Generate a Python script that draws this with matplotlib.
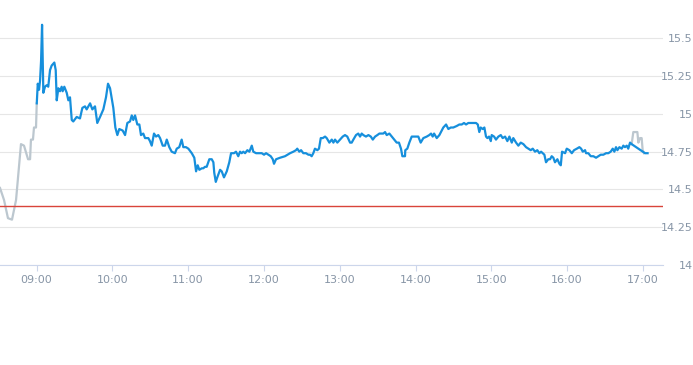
import matplotlib
matplotlib.use('Agg')
import matplotlib.pyplot as plt
import numpy as np

# minutes after 09:00, prices
pre_minutes = [-28.9, -25.7, -22.6, -19.4, -16.2, -12.3, -9.9, -6.7, -5.1, -4.4, -2.8, -2.0, -0.4, 0.2]
pre_prices = [14.51, 14.43, 14.31, 14.30, 14.43, 14.80, 14.79, 14.70, 14.70, 14.83, 14.83, 14.91, 14.91, 15.07]

day_minutes = [
    0.2, 1.0, 2.0, 2.8, 3.6, 4.4, 5.4, 6.7, 8.1, 9.3, 10.7, 12.0, 14.1, 15.2, 16.0, 17.3, 18.6, 19.9,
    20.7, 22.0, 23.9, 25.2, 26.5, 27.9, 29.1, 31.8, 34.4, 36.3, 38.4, 39.7, 42.4, 44.2, 46.3, 48.1,
    50.3, 52.9, 55.0, 56.6, 58.2, 60.8, 62.4, 64.0, 65.5, 68.2, 70.1, 71.9, 74.0, 75.4, 76.6, 78.0,
    79.8, 81.4, 82.7, 84.5, 85.9, 88.5, 89.8, 91.2, 93.0, 94.6, 96.4, 97.8, 99.9, 101.7, 103.1, 105.1,
    107.0, 109.6, 111.0, 113.0, 114.9, 116.2, 118.3, 120.2, 122.9, 124.9, 126.3, 127.6, 128.9, 130.8,
    132.0, 133.4, 134.7, 136.8, 138.7, 140.0, 140.7, 141.9, 143.1, 145.3, 146.6, 148.4, 150.6, 152.6,
    154.0, 156.3, 157.9, 159.7, 161.1, 162.4, 163.7, 165.1, 166.9, 168.5, 170.4, 171.6, 173.8, 175.6,
    178.3, 180.1, 181.7, 183.5, 185.4, 187.0, 188.0, 189.6, 192.8, 196.7, 200.7, 203.3, 205.4, 206.4,
    208.0, 209.4, 211.2, 213.3, 215.2, 216.5, 217.8, 219.1, 220.4, 222.3, 223.6, 225.0, 226.6, 228.4,
    229.7, 231.8, 233.7, 235.0, 236.3, 238.1, 240.3, 242.4, 244.2, 246.0, 248.2, 249.5, 250.8, 252.9,
    254.7, 256.1, 257.4, 258.7, 260.8, 262.7, 264.6, 266.2, 268.0, 269.8, 271.4, 273.3, 274.5, 275.9,
    277.2, 279.3, 281.2, 283.0, 285.1, 286.9, 288.5, 289.6, 291.7, 291.9, 293.5, 295.1, 297.0, 299.6,
    302.2, 304.1, 306.2, 308.9, 310.9, 312.3, 313.6, 314.7, 316.8, 318.9, 320.8, 322.0, 324.2, 326.0,
    327.9, 329.9, 332.6, 334.7, 336.6, 338.4, 340.0, 341.8, 343.7, 345.8, 347.9, 349.3, 350.5, 351.6,
    353.2, 354.5, 355.8, 356.9, 358.2, 359.6, 360.3, 362.2, 363.7, 365.6, 367.5, 369.0, 370.9, 372.7,
    374.3, 376.2, 377.4, 379.6, 381.4, 383.3, 385.4, 387.5, 389.3, 391.2, 392.8, 394.6, 396.4, 398.0,
    399.4, 400.7, 402.0, 403.3, 405.1, 406.5, 407.8, 409.1, 410.4, 412.3, 413.9, 415.0, 416.0, 418.4,
    419.7, 421.8, 423.7, 425.5, 427.7, 429.7, 431.1, 432.4, 434.2, 435.0, 436.8, 438.7, 440.8, 442.9,
    444.7, 446.6, 448.7, 450.8, 452.6, 454.5, 456.1, 457.4, 458.7, 459.8, 461.4, 463.2, 464.5, 465.8,
    467.2, 468.4, 469.8, 471.1, 481.7, 483.7,
]
day_prices = [
    15.07, 15.20, 15.16, 15.22, 15.35, 15.59, 15.14, 15.18, 15.19, 15.18, 15.29, 15.32, 15.34, 15.29, 15.09, 15.17, 15.15, 15.18,
    15.15, 15.18, 15.14, 15.09, 15.11, 14.96, 14.95, 14.98, 14.97, 15.04, 15.05, 15.03, 15.07, 15.03, 15.05, 14.94,
    14.98, 15.03, 15.11, 15.20, 15.17, 15.04, 14.91, 14.86, 14.90, 14.89, 14.86, 14.94, 14.95, 14.99, 14.96, 14.99,
    14.93, 14.93, 14.86, 14.87, 14.84, 14.84, 14.82, 14.79, 14.87, 14.85, 14.86, 14.84, 14.79, 14.79, 14.83, 14.78,
    14.75, 14.74, 14.77, 14.78, 14.83, 14.78, 14.78, 14.77, 14.74, 14.71, 14.62, 14.66, 14.63, 14.64,
    14.64, 14.65, 14.65, 14.70, 14.70, 14.68, 14.61, 14.55, 14.58, 14.63, 14.62, 14.58, 14.62, 14.68,
    14.74, 14.74, 14.75, 14.72, 14.75, 14.74, 14.75, 14.74, 14.76, 14.75, 14.79, 14.75, 14.74, 14.74,
    14.74, 14.73, 14.74, 14.73, 14.72, 14.70, 14.67, 14.70, 14.71, 14.72, 14.74, 14.75, 14.76, 14.77,
    14.75, 14.76, 14.74, 14.74, 14.73, 14.73, 14.72, 14.74, 14.77, 14.76, 14.77, 14.84, 14.84, 14.85,
    14.84, 14.81, 14.83, 14.81, 14.83, 14.81, 14.83, 14.85, 14.86, 14.85, 14.81, 14.81, 14.83, 14.86,
    14.87, 14.85, 14.87, 14.86, 14.85, 14.86, 14.85, 14.83, 14.85, 14.86, 14.87, 14.87, 14.87, 14.88,
    14.86, 14.87, 14.85, 14.83, 14.81, 14.81, 14.77, 14.72, 14.72, 14.76, 14.77, 14.81, 14.85, 14.85,
    14.85, 14.81, 14.84, 14.85, 14.86, 14.87, 14.85, 14.87, 14.84, 14.86, 14.89, 14.91, 14.93, 14.90,
    14.91, 14.91, 14.92, 14.93, 14.93, 14.94, 14.93, 14.94, 14.94, 14.94, 14.94, 14.93, 14.88, 14.91,
    14.90, 14.91, 14.85, 14.84, 14.85, 14.82, 14.86, 14.85, 14.83, 14.85, 14.86, 14.84, 14.85, 14.82,
    14.85, 14.81, 14.84, 14.81, 14.79, 14.81, 14.80, 14.78, 14.77, 14.76, 14.77, 14.75, 14.76, 14.74,
    14.75, 14.74, 14.73, 14.68, 14.70, 14.70, 14.72, 14.71, 14.68, 14.70, 14.67, 14.66, 14.75, 14.74,
    14.77, 14.76, 14.74, 14.76, 14.77, 14.78, 14.77, 14.75, 14.76, 14.74, 14.74, 14.72, 14.72, 14.71,
    14.72, 14.73, 14.73, 14.74, 14.74, 14.75, 14.77, 14.75, 14.78, 14.76, 14.78, 14.77, 14.79, 14.78,
    14.79, 14.77, 14.81, 14.80, 14.74, 14.74,
]

post_minutes = [471.1, 472.4, 475.6, 476.4, 477.7, 479.0, 479.8, 480.8]
post_prices = [14.80, 14.88, 14.88, 14.81, 14.84, 14.84, 14.76, 14.74]

prev_close = 14.39

hour_ticks = [540, 600, 660, 720, 780, 840, 900, 960, 1020]
hour_labels = ['09:00', '10:00', '11:00', '12:00', '13:00', '14:00', '15:00', '16:00', '17:00']
price_ticks = [14, 14.25, 14.5, 14.75, 15, 15.25, 15.5]
price_labels = ['14', '14.25', '14.5', '14.75', '15', '15.25', '15.5']

OPEN = 540
label_color = '#8795a6'

fig = plt.figure(figsize=(6.93, 3.65), dpi=100)
ax = fig.add_axes([0, 100 / 365, 663 / 693, 265 / 365])

ax.plot(np.array(pre_minutes) + OPEN, pre_prices, color='#bcc7cf', lw=1.6, zorder=2,
        solid_joinstyle='round')
ax.plot(np.array(post_minutes) + OPEN, post_prices, color='#bcc7cf', lw=1.6, zorder=2,
        solid_joinstyle='round')
ax.plot(np.array(day_minutes) + OPEN, day_prices, color='#168fdc', lw=1.6, zorder=3,
        solid_joinstyle='round')
ax.axhline(prev_close, color='#d9443a', lw=1.0, zorder=2)

ax.set_xlim(511.1, 1035.9)
ax.set_ylim(14, 15.754)

ax.set_yticks(price_ticks)
ax.set_yticklabels(price_labels)
ax.yaxis.tick_right()
ax.tick_params(axis='y', length=0, pad=21.3, labelsize=8, labelcolor=label_color)
for lbl in ax.get_yticklabels():
    lbl.set_horizontalalignment('right')

ax.set_xticks(hour_ticks)
ax.set_xticklabels(hour_labels)
ax.tick_params(axis='x', length=4, width=0.8, color='#ccd6eb', pad=3,
               labelsize=8, labelcolor=label_color)

ax.grid(axis='y', color='#e6e6e6', lw=0.8)
ax.set_axisbelow(True)
for side in ['top', 'left', 'right']:
    ax.spines[side].set_visible(False)
ax.spines['bottom'].set_color('#ccd6eb')
ax.spines['bottom'].set_linewidth(0.8)

fig.savefig('out.png', dpi=100)
